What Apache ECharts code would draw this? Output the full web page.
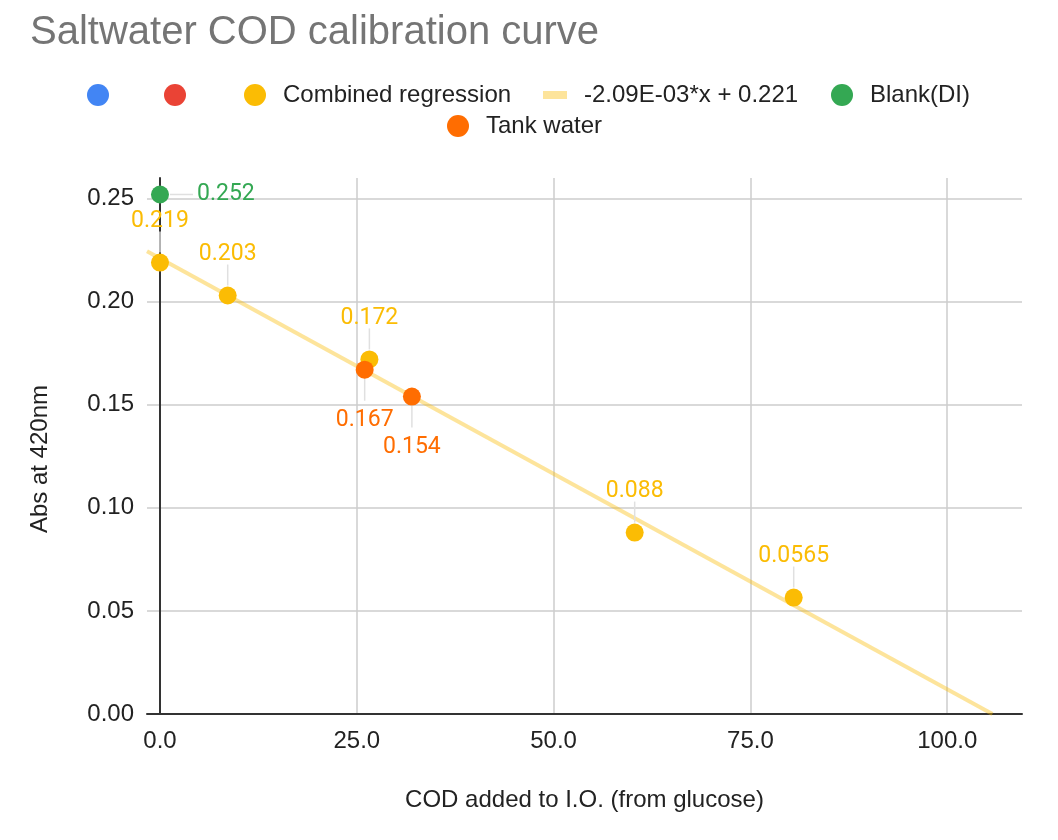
<!DOCTYPE html>
<html><head><meta charset="utf-8">
<script src="https://cdn.jsdelivr.net/npm/echarts@6/dist/echarts.min.js"></script>
<style>html,body{margin:0;padding:0;background:#fff}#c{width:1058px;height:840px}</style>
</head><body><div id="c"></div>
<script>
const titleText = 'Saltwater COD calibration curve';
const xAxisName = 'COD added to I.O. (from glucose)';
const yAxisName = 'Abs at 420nm';
const xTicks = [0, 25, 50, 75, 100];
const yTicks = [0, 0.05, 0.10, 0.15, 0.20, 0.25];
const xRange = [-1.65, 109.5];
const yRange = [0, 0.26];
const combinedX = [0, 8.6, 26.6, 60.3, 80.5];
const combinedY = [0.219, 0.203, 0.172, 0.088, 0.0565];
const blankX = [0];
const blankY = [0.252];
const tankX = [26.0, 32.0];
const tankY = [0.167, 0.154];
const trendSlope = -2.09e-3;
const trendIntercept = 0.221;
const trendLabel = '-2.09E-03*x + 0.221';
const emptyNames = [' ', '  '];

const SANS = '"Liberation Sans", Arial, Helvetica, sans-serif';
const ROBO = 'Roboto';
const YEL = '#FBBC04', GRN = '#34A853', ORG = '#FF6D01', BLU = '#4285F4', RED = '#EA4335';
const zip = (xs, ys) => xs.map((x, i) => [x, ys[i]]);
const trendData = [xRange[0], -trendIntercept / trendSlope].map(x => [x, trendSlope * x + trendIntercept]);
const lbl = (color, position, distance) => ({
  show: true, position, distance, color, fontFamily: ROBO, fontSize: 23, lineHeight: 26,
  formatter: p => String(p.value[1])
});
// leader line drawn from each point via the axis scales; offsets are pixel styling
const leaderSeries = (name, data, dir) => ({
  name, type: 'custom', data, z: 2, silent: true,
  renderItem: (params, api) => {
    const c = api.coord([api.value(0), api.value(1)]);
    let shape;
    if (dir === 'up') shape = { x1: c[0], y1: c[1] - 10, x2: c[0], y2: c[1] - 31 };
    else if (dir === 'down') shape = { x1: c[0], y1: c[1] + 8, x2: c[0], y2: c[1] + 31 };
    else shape = { x1: c[0] + 10, y1: c[1], x2: c[0] + 33, y2: c[1] };
    return { type: 'line', shape, style: { stroke: '#e0e0e0', lineWidth: 1.5 } };
  }
});
const legendText = (pad) => ({ fontFamily: SANS, fontSize: 24, color: '#222', padding: [0, 0, 0, pad] });
const legendBase = (name, left, top, icon, extra) => Object.assign({
  data: [{ name, icon }], left, top, padding: 0, itemWidth: 22, itemHeight: 22, selectedMode: false,
  textStyle: legendText(12)
}, extra || {});

const chart = echarts.init(document.getElementById('c'));
chart.setOption({
  animation: false,
  backgroundColor: '#fff',
  title: { text: titleText, left: 30, top: 13, padding: 0,
    textStyle: { fontFamily: SANS, fontSize: 40, fontWeight: 'normal', color: '#757575' } },
  legend: [
    legendBase(emptyNames[0], 87, 83, 'circle'),
    legendBase(emptyNames[1], 164, 83, 'circle'),
    legendBase('Combined regression', 244, 83, 'circle'),
    legendBase(trendLabel, 543, 83, 'rect', { itemWidth: 24, itemHeight: 8, textStyle: legendText(12) }),
    legendBase('Blank(DI)', 831, 83, 'circle'),
    legendBase('Tank water', 447, 114, 'circle')
  ],
  grid: { left: 147, right: 36, top: 178, bottom: 126, containLabel: false },
  xAxis: {
    type: 'value', min: xRange[0], max: xRange[1],
    name: xAxisName, nameLocation: 'middle', nameGap: 74,
    nameTextStyle: { fontFamily: SANS, fontSize: 24, color: '#222' },
    axisLine: { show: true, onZero: true, lineStyle: { color: '#333', width: 2 } },
    axisTick: { show: false, customValues: xTicks },
    axisLabel: { customValues: xTicks, formatter: v => v.toFixed(1), margin: 15,
      fontFamily: SANS, fontSize: 24, color: '#222' },
    splitLine: { show: true, lineStyle: { color: '#cccccc', width: 1.5 } }
  },
  yAxis: {
    type: 'value', min: yRange[0], max: yRange[1],
    name: yAxisName, nameLocation: 'middle', nameGap: 95, nameRotate: 90,
    nameTextStyle: { fontFamily: SANS, fontSize: 24, color: '#222', padding: [0, 26, 0, 0] },
    axisLine: { show: true, onZero: true, lineStyle: { color: '#333', width: 2 } },
    axisTick: { show: false, customValues: yTicks },
    axisLabel: { customValues: yTicks, formatter: v => v.toFixed(2), margin: 13,
      fontFamily: SANS, fontSize: 24, color: '#222' },
    splitLine: { show: true, lineStyle: { color: '#cccccc', width: 1.5 } }
  },
  series: [
    { name: emptyNames[0], type: 'scatter', data: [], itemStyle: { color: BLU, opacity: 1 } },
    { name: emptyNames[1], type: 'scatter', data: [], itemStyle: { color: RED, opacity: 1 } },
    { name: trendLabel, type: 'line', data: trendData, showSymbol: false, symbol: 'none',
      clip: true, silent: true, z: 1,
      itemStyle: { color: '#FDE49B' },
      lineStyle: { color: 'rgba(251,188,4,0.4)', width: 4 } },
    leaderSeries('leaderCombined', zip(combinedX, combinedY), 'up'),
    leaderSeries('leaderBlank', zip(blankX, blankY), 'right'),
    leaderSeries('leaderTank', zip(tankX, tankY), 'down'),
    { name: 'Combined regression', type: 'scatter', data: zip(combinedX, combinedY), symbolSize: 18,
      z: 3, itemStyle: { color: YEL, opacity: 1 }, label: lbl(YEL, 'top', 19) },
    { name: 'Blank(DI)', type: 'scatter', data: zip(blankX, blankY), symbolSize: 18,
      z: 3, itemStyle: { color: GRN, opacity: 1 }, label: lbl(GRN, 'right', 28) },
    { name: 'Tank water', type: 'scatter', data: zip(tankX, tankY), symbolSize: 18,
      z: 4, itemStyle: { color: ORG, opacity: 1 }, label: lbl(ORG, 'bottom', 29) }
  ]
});
</script>
</body></html>
